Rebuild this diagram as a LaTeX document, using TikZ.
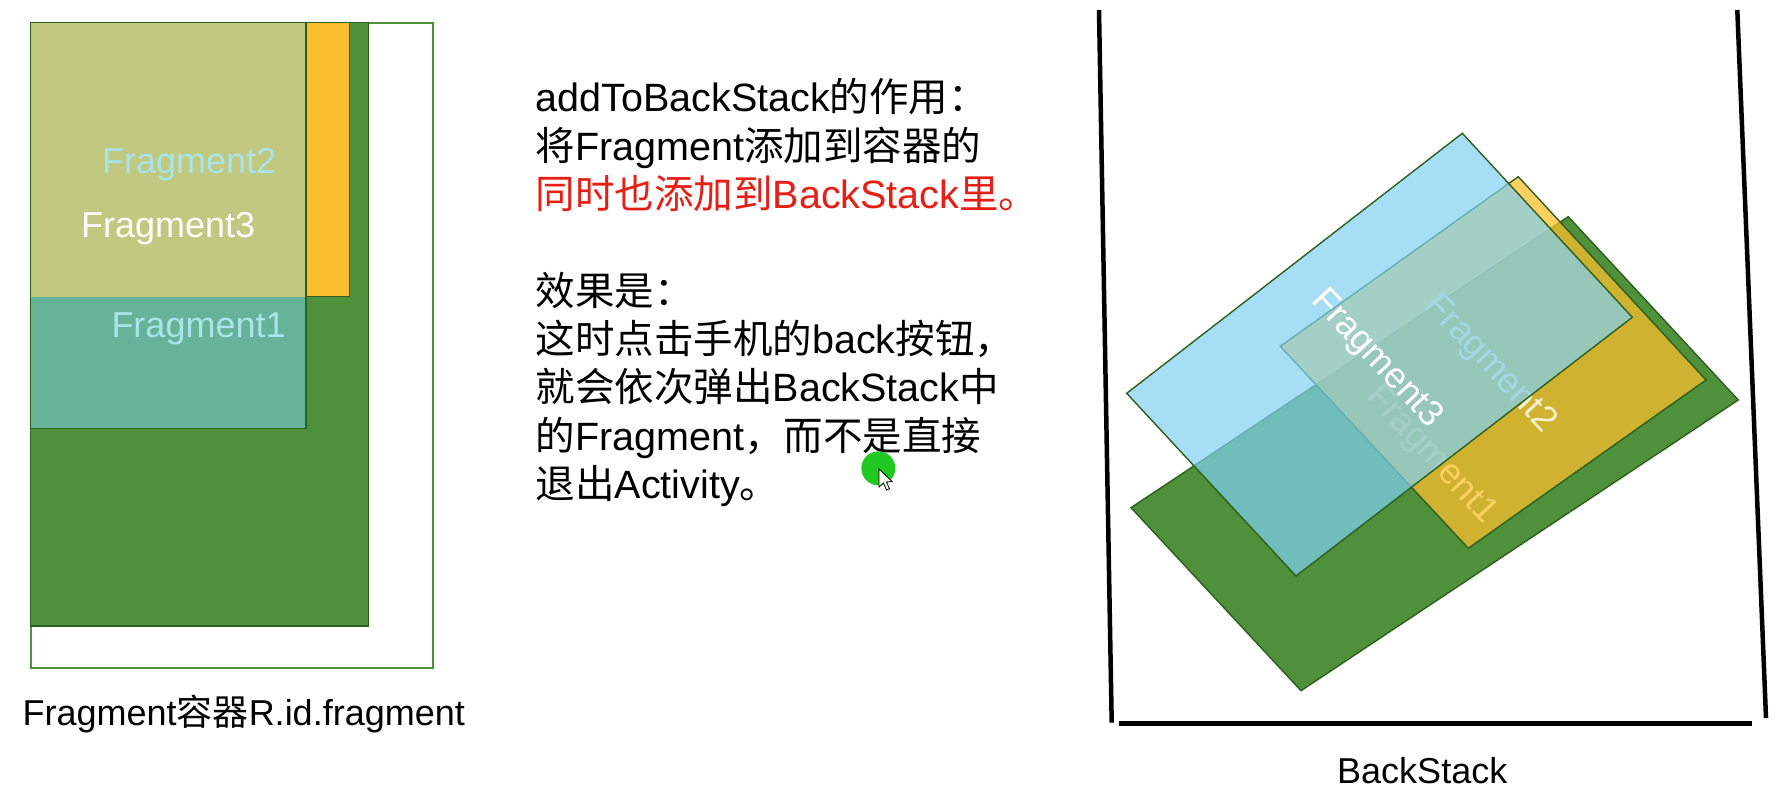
\documentclass[tikz,border=0pt]{standalone}
\usepackage{fontspec}
\setmainfont{Liberation Sans}
\newfontfamily\cjk{Noto Sans CJK SC}
\newcommand{\zh}[1]{{\cjk #1}}
\definecolor{fgreen}{RGB}{78,145,58}
\definecolor{edgegreen}{RGB}{45,95,30}
\definecolor{fyellow}{RGB}{251,191,45}
\definecolor{folive}{RGB}{192,201,127}
\definecolor{fteal}{RGB}{102,179,153}
\definecolor{fblue}{RGB}{128,208,242}
\definecolor{lcyan}{RGB}{168,228,234}
\definecolor{fred}{RGB}{230,30,20}
\definecolor{cream}{RGB}{245,238,205}
\definecolor{cursorgreen}{RGB}{34,200,34}
\begin{document}
\begin{tikzpicture}[x=1pt,y=-1pt,
  layer/.style={draw=edgegreen,line width=1.4pt},
  lbl/.style={inner sep=0pt,font=\fontsize{36}{43}\selectfont},
  txt/.style={inner sep=0pt,anchor=base west,font=\fontsize{39.5}{48}\selectfont},
  stackline/.style={line width=4.5pt,black}]
\useasboundingbox (0,0) rectangle (1775,790);
\fill[white] (0,0) rectangle (1775,790);

% ---------- left panel: container ----------
\draw[fill=white,draw=fgreen,line width=2pt] (30.7,22.7) rectangle (433.3,668.3);
\draw[layer,fill=fgreen] (30.7,22.7) rectangle (368.3,626);
\draw[layer,fill=fyellow] (30.7,22.7) rectangle (349.3,296.7);
\fill[folive] (30.7,22.7) rectangle (306,296.7);
\fill[fteal] (30.7,296.7) rectangle (306,428.3);
\draw[layer] (30.7,22.7) rectangle (306,428.3);
\node[lbl,anchor=base west,text=lcyan] (lf2) at (102,173.3) {Fragment2};
\node[lbl,anchor=base west,text=white] (lf3) at (81,237.3) {Fragment3};
\node[lbl,anchor=base west,text=lcyan] (lf1) at (111.3,337.3) {Fragment1};
\node[lbl,anchor=base west,text=black] (cap) at (22.5,725) {Fragment\zh{容器}R.id.fragment};

% ---------- middle text ----------
\node[txt] (l1) at (535.5,111.7) {addToBackStack\zh{的作用：}};
\node[txt] (l2) at (535.5,160) {\zh{将}Fragment\zh{添加到容器的}};
\node[txt,text=fred] (l3) at (535.5,208.3) {\zh{同时也添加到}BackStack\zh{里。}};
\node[txt] (l4) at (535.5,305) {\zh{效果是：}};
\node[txt] (l5) at (535.5,353.3) {\zh{这时点击手机的}back\zh{按钮，}};
\node[txt] (l6) at (535.5,401.7) {\zh{就会依次弹出}BackStack\zh{中}};
\node[txt] (l7) at (535.5,450) {\zh{的}Fragment\zh{，而不是直接}};
\node[txt] (l8) at (535.5,498.3) {\zh{退出}Activity\zh{。}};

% cursor highlight
\fill[cursorgreen] (878.3,468.3) circle[radius=17];
\draw[fill=white,line width=0.8pt] (879,469) -- (879,487) -- (883.5,483) -- (886.5,490) -- (889.5,488.8) -- (886.5,482) -- (892,481.5) -- cycle;

% ---------- right panel: back stack ----------
\draw[stackline] (1099,10) -- (1111.7,722.7);
\draw[stackline] (1119.3,723.3) -- (1752,723.3);
\draw[stackline] (1737.3,10) -- (1766,718);

\coordinate (gL) at (1131,507.7);
\coordinate (gT) at (1568.3,216.7);
\coordinate (gR) at (1738.3,400);
\coordinate (gB) at (1301,690.7);
\coordinate (yL) at (1280.3,346.3);
\coordinate (yT) at (1518.3,176.7);
\coordinate (yR) at (1706,380);
\coordinate (yB) at (1468.3,548.3);
\coordinate (bL) at (1126.7,393.3);
\coordinate (bT) at (1462.3,133.3);
\coordinate (bR) at (1632.3,317.3);
\coordinate (bB) at (1296,576);

\draw[layer,fill=fgreen] (gL) -- (gT) -- (gR) -- (gB) -- cycle;
\node[lbl,rotate=-47,text=white] (rf1) at (1431,455.5) {Fragment1};
\draw[layer,fill=fyellow,fill opacity=0.75] (yL) -- (yT) -- (yR) -- (yB) -- cycle;
\node[lbl,rotate=-47,text=cream] (rf2) at (1489.8,364) {Fragment2};
\draw[layer,fill=fblue,fill opacity=0.7] (bL) -- (bT) -- (bR) -- (bB) -- cycle;
\node[lbl,rotate=-47,text=white] (rf3) at (1376.3,359) {Fragment3};

\node[lbl,anchor=base west] (bs) at (1337,783.3) {BackStack};
\end{tikzpicture}
\end{document}
